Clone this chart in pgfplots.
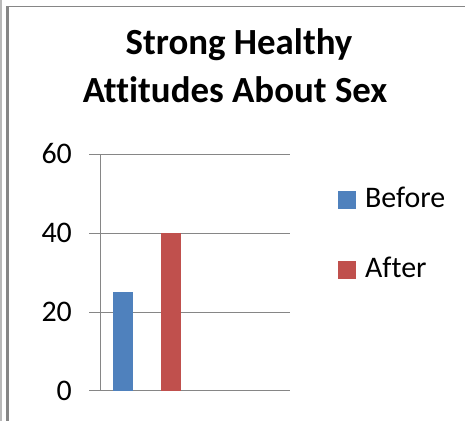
\documentclass[border=0pt]{standalone}
\usepackage{pgfplots}
\pgfplotsset{compat=1.18}
\usepackage{fontspec}
\setmainfont{Carlito}[Ligatures=NoCommon]
\definecolor{exblue}{HTML}{4F81BD}
\definecolor{exred}{HTML}{C0504D}
\definecolor{exgrid}{HTML}{868686}
\begin{document}
\begin{tikzpicture}
\path[use as bounding box] (0,0) rectangle (465bp,421bp);
\fill[white] (0,0) rectangle (465bp,421bp);
\draw[gray!55, line width=1.5bp] (1bp,0) -- (1bp,421bp);
\draw[exgrid, line width=2.5bp] (7.5bp,0) -- (7.5bp,414.3bp);
\draw[exgrid, line width=1.5bp] (6.25bp,414.3bp) -- (465bp,414.3bp);
\node[font=\bfseries\fontsize{37}{44}\selectfont, anchor=base] at (239bp,366bp) {Strong Healthy};
\node[font=\bfseries\fontsize{37}{44}\selectfont, anchor=base] at (235bp,318bp) {Attitudes About Sex};
\begin{axis}[
  at={(100bp,30bp)}, anchor=south west,
  scale only axis, width=190bp, height=237bp,
  xmin=0, xmax=2, ymin=0, ymax=60,
  ytick={0,20,40,60}, xtick=\empty,
  ymajorgrids, grid style={exgrid, line width=1bp},
  axis y line*=left, axis x line*=bottom,
  x axis line style={draw=none},
  y axis line style={exgrid, line width=1bp, -},
  tick align=outside, major tick length=11bp,
  tick style={exgrid, line width=1bp},
  ytick pos=left,
  /pgf/number format/assume math mode=true,
  yticklabel style={font=\fontsize{30}{36}\selectfont, anchor=east, inner sep=0pt, xshift=-17bp},
  bar width=20bp,
  legend image code/.code={\fill[#1] (0bp,-11bp) rectangle (18bp,7bp);},
  legend cell align=left,
  legend style={at={(rel axis cs:1.2526,0.862)}, anchor=north west, draw=none, fill=none,
    inner sep=0pt, row sep=48bp, column sep=9bp,
    font=\fontsize{30}{36}\selectfont, nodes={inner sep=0pt}},
]
\addplot[ybar, fill=exblue, draw=none, bar shift=0pt] coordinates {(0.242,25)};
\addplot[ybar, fill=exred, draw=none, bar shift=0pt] coordinates {(0.747,40)};
\legend{Before, After}
\end{axis}
\end{tikzpicture}
\end{document}
